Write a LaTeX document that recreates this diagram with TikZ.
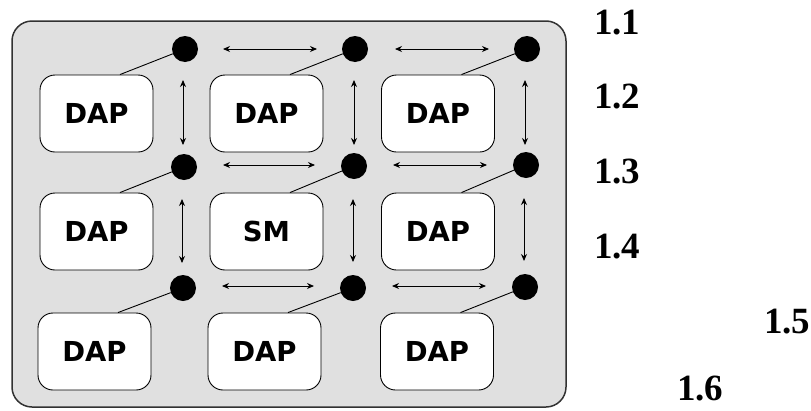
\documentclass[tikz,border=0pt]{standalone}
\usepackage{fontspec}
\setmainfont{Liberation Serif}
\newfontfamily\boxfont{DejaVu Sans}
\usetikzlibrary{arrows.meta}
\definecolor{panelgray}{RGB}{224,224,224}
\definecolor{edgegray}{RGB}{50,50,50}
\tikzset{
  unit/.style={draw=black, line width=0.9pt, fill=white, rounded corners=15pt,
    minimum width=113pt, minimum height=77pt, inner sep=0pt,
    font=\boxfont\bfseries\fontsize{27.5}{27.5}\selectfont},
  hub/.style={circle, fill=black, minimum size=26pt, inner sep=0pt},
  link/.style={line width=0.9pt},
  bus/.style={line width=0.9pt, {Stealth[length=7pt,width=6pt]}-{Stealth[length=7pt,width=6pt]}},
  num/.style={anchor=base west, inner sep=0pt, font=\bfseries\fontsize{37}{37}\selectfont}
}
\begin{document}
\begin{tikzpicture}[x=1pt, y=-1pt]
  \useasboundingbox (0,0) rectangle (811,410);
  % panel
  \draw[fill=panelgray, draw=edgegray, line width=1.5pt, rounded corners=20pt]
    (12,21) rectangle (566,407);
  % processing units
  \node[unit] (b11) at (96.5,113.5) {DAP};
  \node[unit] (b12) at (266.5,113.5) {DAP};
  \node[unit] (b13) at (438,113.5) {DAP};
  \node[unit] (b21) at (96.5,231.5) {DAP};
  \node[unit] (b22) at (266.5,231.5) {SM};
  \node[unit] (b23) at (438,231.5) {DAP};
  \node[unit] (b31) at (94.5,351.5) {DAP};
  \node[unit] (b32) at (264.5,351.5) {DAP};
  \node[unit] (b33) at (437,351.5) {DAP};
  % routing hubs
  \node[hub] (d11) at (185,49) {};
  \node[hub] (d12) at (355,49) {};
  \node[hub] (d13) at (527,49) {};
  \node[hub] (d21) at (184,167) {};
  \node[hub] (d22) at (354,166) {};
  \node[hub] (d23) at (526,165) {};
  \node[hub] (d31) at (183,288) {};
  \node[hub] (d32) at (353,288) {};
  \node[hub] (d33) at (525,287) {};
  % unit-to-hub links
  \foreach \r/\c in {1/1,1/2,1/3,2/1,2/2,2/3,3/1,3/2,3/3}
    \draw[link] ([xshift=23.5pt]b\r\c.north) -- (d\r\c);
  % horizontal buses
  \coordinate (h1a) at (223,49);  \coordinate (h1b) at (317,49);
  \coordinate (h1c) at (395,49);  \coordinate (h1d) at (489,49);
  \coordinate (h2a) at (223,165); \coordinate (h2b) at (315,165);
  \coordinate (h2c) at (393,165); \coordinate (h2d) at (487,165);
  \coordinate (h3a) at (222,286); \coordinate (h3b) at (314,286);
  \coordinate (h3c) at (392,286); \coordinate (h3d) at (486,286);
  \foreach \r in {1,2,3} {
    \draw[bus] (h\r a) -- (h\r b);
    \draw[bus] (h\r c) -- (h\r d);
  }
  % vertical buses
  \coordinate (v1a) at (183,80);  \coordinate (v1b) at (183,145);
  \coordinate (v2a) at (354,80);  \coordinate (v2b) at (354,145);
  \coordinate (v3a) at (525,80);  \coordinate (v3b) at (525,145);
  \coordinate (v4a) at (182,199); \coordinate (v4b) at (182,263);
  \coordinate (v5a) at (353,199); \coordinate (v5b) at (353,262);
  \coordinate (v6a) at (524,198); \coordinate (v6b) at (524,261);
  \foreach \k in {1,...,6}
    \draw[bus] (v\k a) -- (v\k b);
  % labels
  \node[num] (n1) at (594,34) {1.1};
  \node[num] (n2) at (594,108) {1.2};
  \node[num] (n3) at (594,183) {1.3};
  \node[num] (n4) at (594,258) {1.4};
  \node[num] (n5) at (764,333) {1.5};
  \node[num] (n6) at (677,400) {1.6};
\end{tikzpicture}
\end{document}
